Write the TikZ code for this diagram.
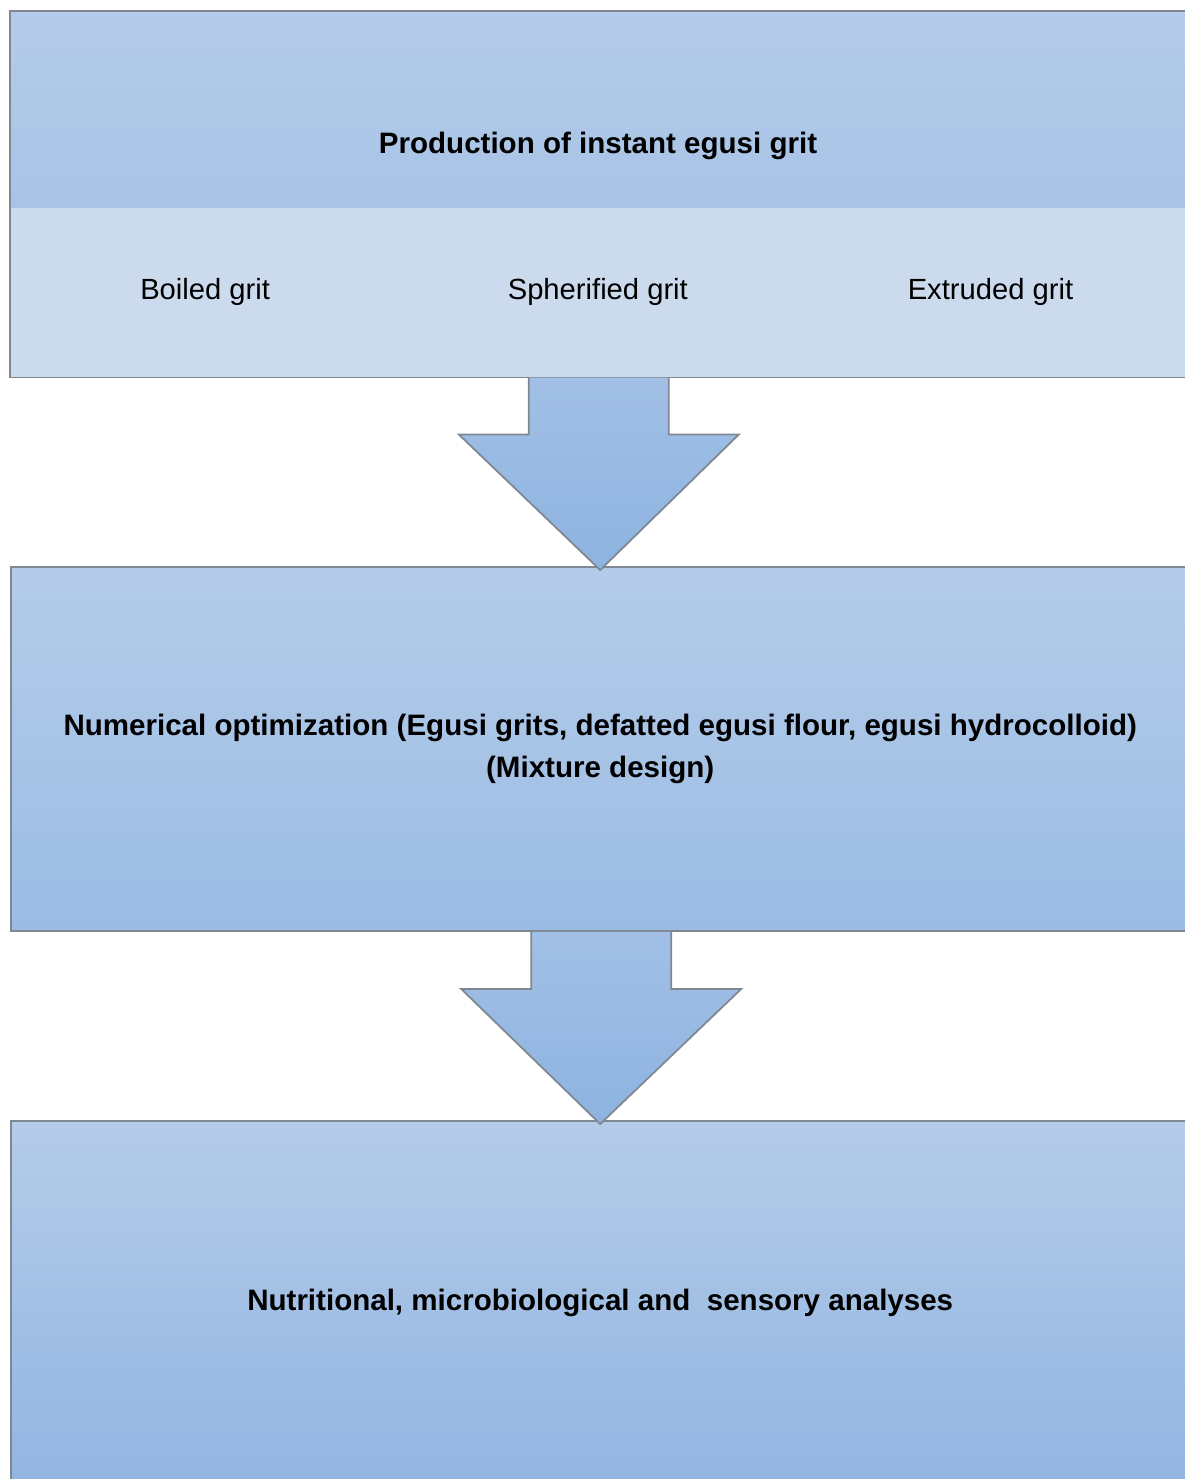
\documentclass[tikz,border=0pt]{standalone}
\usepackage{fontspec}
\setmainfont{Liberation Sans}
\usetikzlibrary{calc}
\definecolor{edgegray}{HTML}{7F8790}
\definecolor{bandtop}{HTML}{B4CCE9}
\definecolor{bandbot}{HTML}{A7C3E6}
\definecolor{subfill}{HTML}{CBDAEC}
\definecolor{stagetop}{HTML}{B4CCE9}
\definecolor{stagebot}{HTML}{9BBCE4}
\definecolor{lasttop}{HTML}{B4CCE9}
\definecolor{lastbot}{HTML}{92B5E1}
\definecolor{arrowtop}{HTML}{A2C0E6}
\definecolor{arrowbot}{HTML}{8DB3E0}
\begin{document}
\begin{tikzpicture}[x=0.01cm, y=-0.01cm, font=\fontsize{8.3}{12}\selectfont,
  band/.style={inner sep=0pt, minimum width=11.78cm, minimum height=1.96cm, anchor=north west,
    top color=bandtop, bottom color=bandbot},
  subbox/.style={inner sep=0pt, minimum width=3.9267cm, minimum height=1.69cm, anchor=north west,
    fill=subfill},
  stage/.style={draw=edgegray, line width=0.5pt, inner sep=0pt, minimum width=11.78cm,
    minimum height=3.64cm, anchor=north west, align=center, font=\fontsize{8.4}{12}\selectfont\bfseries},
  blockarrow/.style={draw=edgegray, line width=0.5pt, line join=miter}]
  \useasboundingbox (0,0) rectangle (1184,1479);
  % top group: title band and three kinds of grit
  \node[band] (band) at (10,11) {};
  \node[font=\fontsize{8.4}{12}\selectfont\bfseries] (title) at (598,146) {Production of instant egusi grit};
  \node[subbox] (sub1) at (8,207) {Boiled grit};
  \node[subbox] (sub2) at (400.67,207) {Spherified grit};
  \node[subbox] (sub3) at (793.33,207) {Extruded grit};
  \draw[edgegray, line width=0.5pt] (band.north west) rectangle (sub3.south east);
  % stages
  \node[stage, top color=stagetop, bottom color=stagebot] (mid) at (10,566)
    {Numerical optimization (Egusi grits, defatted egusi flour, egusi hydrocolloid)\\(Mixture design)};
  \node[stage, top color=lasttop, bottom color=lastbot] (bot) at (10,1120)
    {Nutritional, microbiological and \ sensory analyses};
  % block arrows
  \foreach \a/\b in {sub2/mid, mid/bot}{
    \shade[top color=arrowtop, bottom color=arrowbot]
      ($(\a.south)+(-69,0)$) |- ($(\a.south)+(-139,57)$) -- ($(\b.north)+(0,4)$)
      -- ($(\a.south)+(141,57)$) -| ($(\a.south)+(71,0)$) -- cycle;
    \draw[blockarrow]
      ($(\a.south)+(-69,0)$) |- ($(\a.south)+(-139,57)$) -- ($(\b.north)+(0,4)$)
      -- ($(\a.south)+(141,57)$) -| ($(\a.south)+(71,0)$);
  }
\end{tikzpicture}
\end{document}
